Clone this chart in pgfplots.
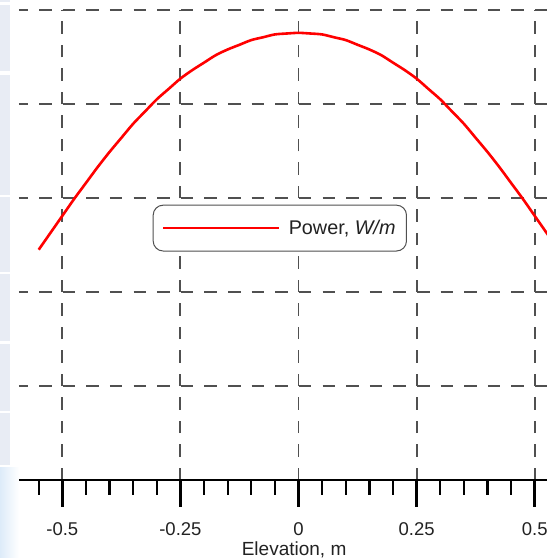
\documentclass[border=0pt]{standalone}
\usepackage{fontspec}
\setmainfont{Liberation Sans}
\usepackage{pgfplots}
\pgfplotsset{compat=1.18}
\definecolor{gridc}{HTML}{505050}
\definecolor{panel}{HTML}{E8ECF4}
\definecolor{txt}{HTML}{222222}
\definecolor{bluegrad}{HTML}{DDEBF9}
\pgfplotstableread{
x y
-0.550 2.45
-0.525 2.63
-0.500 2.81
-0.475 2.99
-0.450 3.16
-0.425 3.33
-0.400 3.49
-0.375 3.64
-0.350 3.79
-0.325 3.92
-0.300 4.05
-0.275 4.16
-0.250 4.27
-0.225 4.36
-0.200 4.44
-0.175 4.52
-0.150 4.58
-0.125 4.63
-0.100 4.68
-0.075 4.71
-0.050 4.74
-0.025 4.75
0.000 4.757
0.025 4.75
0.050 4.74
0.075 4.71
0.100 4.68
0.125 4.63
0.150 4.58
0.175 4.52
0.200 4.44
0.225 4.36
0.250 4.27
0.275 4.16
0.300 4.05
0.325 3.92
0.350 3.79
0.375 3.64
0.400 3.49
0.425 3.33
0.450 3.16
0.475 2.99
0.500 2.81
0.525 2.63
0.550 2.45
}\power
\begin{document}
\begin{tikzpicture}[x=1pt,y=1pt]
\useasboundingbox (0,0) rectangle (547,558);
% side panels (decoration)
\fill[panel] (0,558-2) rectangle (10,558);
\fill[panel] (0,558-71) rectangle (10,558-5);
\fill[panel] (0,558-195) rectangle (10,558-75);
\fill[panel] (0,558-272) rectangle (10,558-197);
\fill[panel] (0,558-341) rectangle (10,558-274);
\fill[panel] (0,558-411) rectangle (10,558-344);
\fill[panel] (0,558-465) rectangle (10,558-413);
\shade[left color=bluegrad, right color=white] (0,0) rectangle (19,558-468);
\begin{axis}[
  at={(19pt,78pt)}, anchor=south west,
  scale only axis, width=528pt, height=470pt,
  xmin=-0.5917, xmax=0.526, ymin=0, ymax=5,
  axis x line=bottom, axis y line=left,
  y axis line style={draw=none},
  x axis line style={line width=2.4pt, black, -},
  ytick={1,2,3,4,5}, yticklabels={}, ytick style={draw=none},
  xtick={-0.5,-0.25,0,0.25,0.5},
  xticklabels={-0.5,-0.25,0,0.25,0.5},
  minor xtick={-0.55,-0.45,-0.4,-0.35,-0.3,-0.2,-0.15,-0.1,-0.05,0.05,0.1,0.15,0.2,0.3,0.35,0.4,0.45},
  tick align=outside, xtick pos=bottom,
  major tick length=27pt, minor tick length=15pt,
  xtick style={line width=2.6pt, black},
  minor x tick style={line width=2.3pt, black},
  xmajorgrids, ymajorgrids,
  major x grid style={gridc, line width=1.9pt, dash pattern=on 12.5pt off 10.975pt},
  major y grid style={gridc, line width=1.9pt, dash pattern=on 12.5pt off 11.12pt, dash phase=3.54pt},
  xticklabel style={font=\fontsize{18.5}{20}\selectfont, text=txt, yshift=-12pt},
  xlabel={Elevation, m},
  xlabel style={at={(axis description cs:0.521,0)}, anchor=base, yshift=-75pt, font=\fontsize{19}{21}\selectfont, text=txt},
  legend style={at={(0.494,0.536)}, anchor=center, draw=gridc, line width=1pt, rounded corners=10pt,
    font=\fontsize{19.8}{21}\selectfont, text=txt, inner xsep=9pt, inner ysep=13pt,
    /tikz/every odd column/.append style={column sep=6pt}},
  legend image code/.code={\draw[#1, line width=2.6pt] (0pt,0pt) -- (116pt,0pt);},
  clip=true,
]
\addplot[red, line width=2.6pt, smooth] table[x=x, y=y] {\power};
\addlegendentry{Power, \textit{W/m}}
\end{axis}
\end{tikzpicture}
\end{document}
